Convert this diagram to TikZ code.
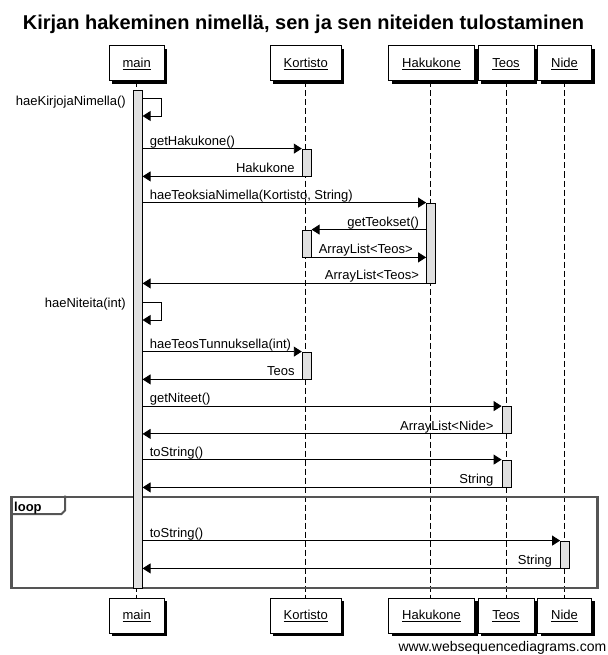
\documentclass[tikz,border=0pt]{standalone}
\usepackage{fontspec}
\setmainfont{Liberation Sans}
\usetikzlibrary{shadows,arrows.meta,calc}
\definecolor{actgray}{RGB}{224,224,224}
\definecolor{framegray}{RGB}{85,85,85}
\begin{document}
\begin{tikzpicture}[x=1pt,y=-1pt,
  every node/.style={font=\fontsize{13}{15}\selectfont, inner sep=0pt},
  part/.style={draw=black, fill=white, line width=1pt, minimum height=35pt,
    text height=10.5pt, text depth=2pt,
    drop shadow={shadow xshift=3pt,shadow yshift=-3pt,fill=black,opacity=1}},
  life/.style={draw=black, dash pattern=on 6pt off 3pt, line width=0.8pt},
  actbar/.style={draw=black, fill=actgray, line width=0.8pt, minimum width=9pt},
  msg/.style={draw=black, line width=0.9pt, -{Triangle[length=8pt,width=10pt]}},
  lbl/.style={anchor=base west},
  rlbl/.style={anchor=base east},
  loopframe/.style={draw=framegray, line width=2.2pt},
]
\useasboundingbox (0,0) rectangle (607,655);

% title
\node[font=\bfseries\fontsize{20}{24}\selectfont, anchor=base] (title) at (303.5,30)
  {Kirjan hakeminen nimellä, sen ja sen niteiden tulostaminen};

% participants top
\node[part, minimum width=55pt] (mainT) at (136.7,63.5) {\underline{main}};
\node[part, minimum width=71pt] (kortT) at (305.7,63.5) {\underline{Kortisto}};
\node[part, minimum width=86pt] (hakT) at (431.5,63.5) {\underline{Hakukone}};
\node[part, minimum width=56pt] (teosT) at (506,63.5) {\underline{Teos}};
\node[part, minimum width=54pt] (nideT) at (564.5,63.5) {\underline{Nide}};
% participants bottom
\node[part, minimum width=55pt] (mainB) at (136.7,615.5) {\underline{main}};
\node[part, minimum width=71pt] (kortB) at (305.7,615.5) {\underline{Kortisto}};
\node[part, minimum width=86pt] (hakB) at (431.5,615.5) {\underline{Hakukone}};
\node[part, minimum width=56pt] (teosB) at (506,615.5) {\underline{Teos}};
\node[part, minimum width=54pt] (nideB) at (564.5,615.5) {\underline{Nide}};

% lifelines
\draw[life] (mainT.south) -- (mainB.north);
\draw[life] (kortT.south) -- (kortB.north);
\draw[life] ([xshift=-0.8pt]hakT.south) -- ([xshift=-0.8pt]hakB.north);
\draw[life] (teosT.south) -- (teosB.north);
\draw[life] (nideT.south) -- (nideB.north);

% loop frame
\node[loopframe, minimum width=586pt, minimum height=91pt] (loopF) at (304.5,542.3) {};
\coordinate (tabA) at (65,510.5);
\coordinate (tabB) at (61.5,514);
\draw[loopframe, line width=2pt] (loopF.north west -| tabA) -- (tabA) -- (tabB) -- (loopF.west |- tabB);
\node[font=\bfseries\fontsize{13}{15}\selectfont, anchor=base west] (loopL) at (14,511) {loop};

% activation bars
\node[actbar, minimum height=498pt] (mA) at (137.7,339) {};
\node[actbar, minimum height=27pt] (k1) at (306.7,162.5) {};
\node[actbar, minimum height=80pt] (h1) at (431,243) {};
\node[actbar, minimum height=27pt] (k2) at (306.7,243.5) {};
\node[actbar, minimum height=27pt] (k3) at (306.7,365.5) {};
\node[actbar, minimum height=27pt] (t1) at (506.5,420) {};
\node[actbar, minimum height=27pt] (t2) at (506.5,473.5) {};
\node[actbar, minimum height=27pt] (n1) at (565,554.5) {};

% self message 1
\coordinate (s1t) at (161.7,98.3);
\coordinate (s1b) at (161.7,116);
\draw[msg] (mA.east |- s1t) -- (s1t) -- (s1b) -- (mA.east |- s1b);
\node[rlbl] (l0) at (126,106) {haeKirjojaNimella()};

% messages
\draw[msg] (mA.east |- k1.north) -- (k1.north west);
\path (mA.east |- k1.north) ++(7,-3.5) node[lbl] (l1) {getHakukone()};
\draw[msg] (k1.south west) -- (mA.east |- k1.south);
\path (k1.south west) ++(-7,-3.5) node[rlbl] (l2) {Hakukone};

\draw[msg] (mA.east |- h1.north) -- (h1.north west);
\path (mA.east |- h1.north) ++(7,-3.5) node[lbl] (l3) {haeTeoksiaNimella(Kortisto, String)};

\draw[msg] (h1.west |- k2.north) -- (k2.north east);
\path (h1.west |- k2.north) ++(-7,-3.5) node[rlbl] (l4) {getTeokset()};
\draw[msg] (k2.south east) -- (h1.west |- k2.south);
\path (k2.south east) ++(7,-3.5) node[lbl] (l5) {ArrayList<Teos>};

\draw[msg] (h1.south west) -- (mA.east |- h1.south);
\path (h1.south west) ++(-7,-3.5) node[rlbl] (l6) {ArrayList<Teos>};

% self message 2
\coordinate (s2t) at (161.7,302.3);
\coordinate (s2b) at (161.7,320);
\draw[msg] (mA.east |- s2t) -- (s2t) -- (s2b) -- (mA.east |- s2b);
\node[rlbl] (l7) at (126,307.5) {haeNiteita(int)};

\draw[msg] (mA.east |- k3.north) -- (k3.north west);
\path (mA.east |- k3.north) ++(7,-3.5) node[lbl] (l8) {haeTeosTunnuksella(int)};
\draw[msg] (k3.south west) -- (mA.east |- k3.south);
\path (k3.south west) ++(-7,-3.5) node[rlbl] (l9) {Teos};

\draw[msg] (mA.east |- t1.north) -- (t1.north west);
\path (mA.east |- t1.north) ++(7,-3.5) node[lbl] (l10) {getNiteet()};
\draw[msg] (t1.south west) -- (mA.east |- t1.south);
\path (t1.south west) ++(-8,-3.5) node[rlbl] (l11) {ArrayList<Nide>};

\draw[msg] (mA.east |- t2.north) -- (t2.north west);
\path (mA.east |- t2.north) ++(7,-3.5) node[lbl] (l12) {toString()};
\draw[msg] (t2.south west) -- (mA.east |- t2.south);
\path (t2.south west) ++(-8,-3.5) node[rlbl] (l13) {String};

\draw[msg] (mA.east |- n1.north) -- (n1.north west);
\path (mA.east |- n1.north) ++(7,-3.5) node[lbl] (l14) {toString()};
\draw[msg] (n1.south west) -- (mA.east |- n1.south);
\path (n1.south west) ++(-8,-3.5) node[rlbl] (l15) {String};

% footer
\node[anchor=base east, font=\fontsize{14}{16}\selectfont] (foot) at (606.5,651)
  {www.websequencediagrams.com};
\end{tikzpicture}
\end{document}
